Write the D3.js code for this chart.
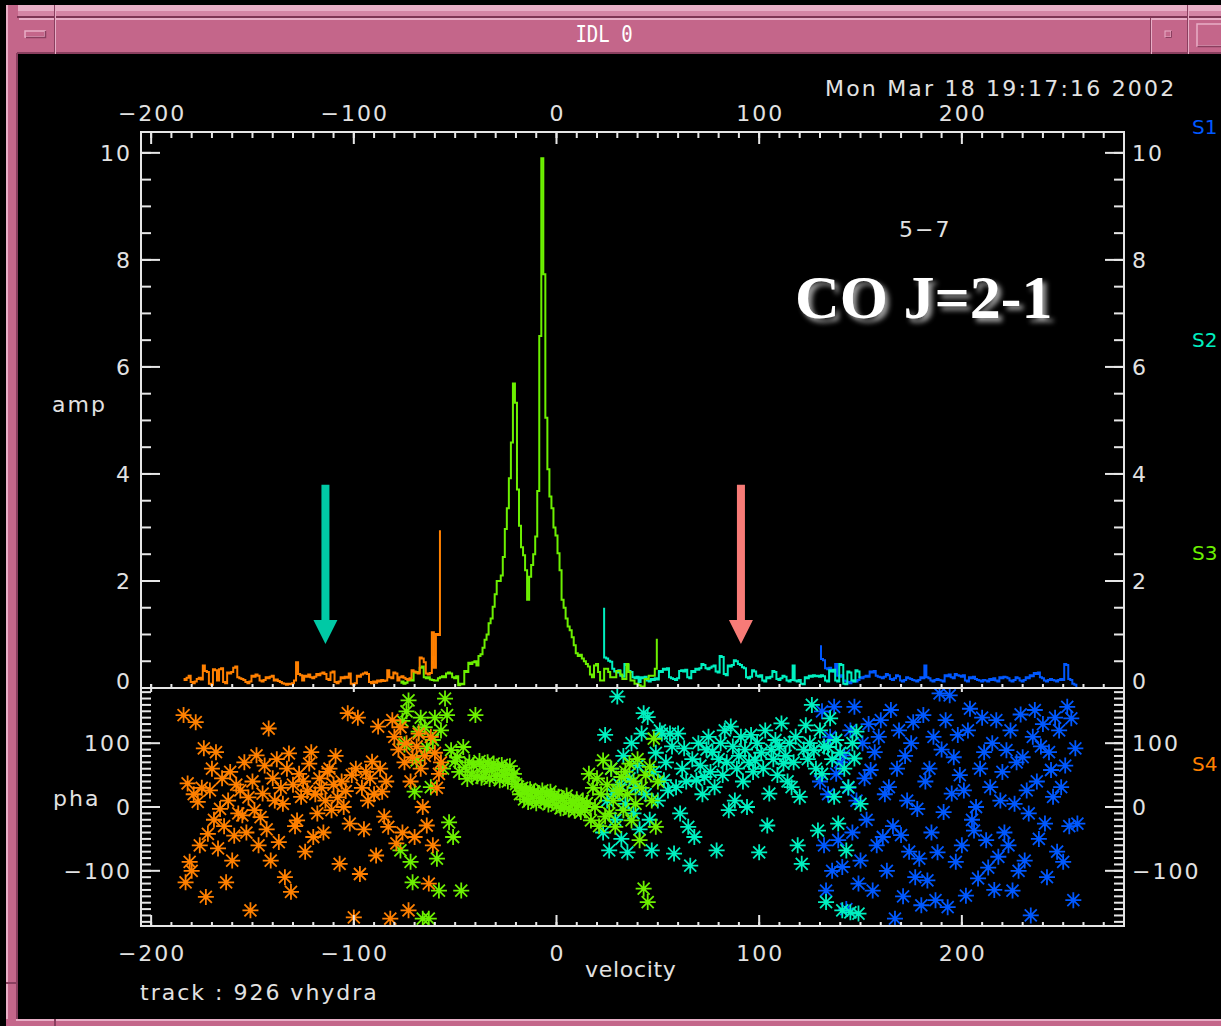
<!DOCTYPE html>
<html>
<head>
<meta charset="utf-8">
<script src="https://cdn.jsdelivr.net/npm/d3@7"></script>
<style>
  html, body { margin: 0; padding: 0; background: #000; overflow: hidden; }
  svg { display: block; }
  .lbl { font-family: "DejaVu Sans", sans-serif; font-size: 22px; fill: #e2e2e2; letter-spacing: 2px; }
</style>
</head>
<body>
<svg id="chart" width="1221" height="1026"></svg>
<script>
// ---- spectral windows: first channel velocity (km/s), 1 km/s channels ----
const chanWidth = 1;
const s4Start = -184;
const s3Start = -77;
const s2Start = 23;
const s1Start = 130;

// ---- amplitudes per channel ----
const s4Amp = [
  0.17,0.15,0.19,0.23,0.11,0.09,0.12,0.17,0.19,0.16,
  0.42,0.32,0.30,0.08,0.06,0.35,0.33,0.14,0.35,0.37,
  0.11,0.09,0.29,0.27,0.30,0.38,0.40,0.20,0.18,0.17,
  0.15,0.11,0.09,0.12,0.23,0.21,0.25,0.23,0.14,0.12,
  0.15,0.20,0.18,0.21,0.23,0.14,0.16,0.13,0.11,0.09,
  0.08,0.06,0.08,0.07,0.09,0.14,0.48,0.26,0.24,0.14,
  0.23,0.21,0.25,0.20,0.18,0.21,0.26,0.24,0.27,0.29,
  0.26,0.17,0.15,0.29,0.31,0.11,0.09,0.12,0.20,0.18,
  0.21,0.19,0.27,0.08,0.06,0.09,0.23,0.21,0.25,0.27,
  0.29,0.26,0.11,0.09,0.12,0.10,0.14,0.12,0.15,0.13,
  0.14,0.33,0.20,0.18,0.29,0.27,0.14,0.20,0.22,0.19,
  0.17,0.15,0.18,0.33,0.31,0.29,0.27,0.57,0.55,0.48,
  0.27,0.25,0.28,1.04,0.38,1.01,0.99,2.93
];
const s3Amp = [
  0.10,0.12,0.08,0.10,0.14,0.15,0.14,0.29,0.30,0.29,
  0.38,0.40,0.20,0.18,0.20,0.16,0.15,0.14,0.14,0.18,
  0.20,0.22,0.20,0.27,0.29,0.27,0.20,0.18,0.22,0.05,
  0.08,0.07,0.32,0.30,0.47,0.45,0.48,0.50,0.42,0.60,
  0.63,0.75,0.90,1.00,1.21,1.30,1.52,1.75,2.00,2.00,
  2.10,2.45,2.97,3.36,3.92,4.59,5.69,5.33,3.71,3.03,
  2.63,2.48,2.20,1.65,2.08,2.30,2.50,2.83,3.68,6.58,
  9.90,7.73,5.05,4.09,3.58,3.36,3.00,2.85,2.52,2.20,
  1.65,1.50,1.30,1.15,1.08,0.95,0.80,0.65,0.60,0.62,
  0.55,0.50,0.45,0.40,0.25,0.20,0.42,0.45,0.30,0.14,
  0.14,0.36,0.36,0.30,0.20,0.20,0.20,0.32,0.32,0.25,
  0.17,0.17,0.45,0.30,0.14,0.14,0.08,0.08,0.05,0.03,
  0.03,0.17,0.17,0.23,0.23,0.23,0.36,0.90
];
const s2Amp = [
  1.48,0.57,0.55,0.51,0.49,0.36,0.31,0.29,0.33,0.23,
  0.21,0.45,0.43,0.32,0.30,0.20,0.18,0.21,0.11,0.20,
  0.18,0.21,0.14,0.12,0.17,0.15,0.18,0.16,0.32,0.30,
  0.36,0.34,0.37,0.20,0.18,0.17,0.15,0.18,0.32,0.33,
  0.31,0.34,0.20,0.18,0.32,0.30,0.36,0.34,0.37,0.45,
  0.43,0.37,0.35,0.38,0.40,0.42,0.31,0.29,0.60,0.58,
  0.26,0.24,0.42,0.40,0.43,0.52,0.50,0.45,0.43,0.39,
  0.37,0.20,0.18,0.21,0.33,0.31,0.23,0.21,0.24,0.14,
  0.12,0.20,0.18,0.21,0.32,0.30,0.17,0.15,0.18,0.23,
  0.21,0.14,0.12,0.15,0.42,0.14,0.12,0.15,0.08,0.07,
  0.20,0.18,0.23,0.21,0.24,0.22,0.23,0.21,0.24,0.22,
  0.14,0.12,0.33,0.31,0.34,0.14,0.12,0.45,0.43,0.08,
  0.07,0.31,0.29,0.14,0.12,0.33,0.31,0.20
];
const s1Amp = [
  0.78,0.54,0.52,0.37,0.35,0.38,0.33,0.31,0.45,0.23,
  0.21,0.24,0.14,0.12,0.11,0.09,0.12,0.14,0.12,0.15,
  0.20,0.18,0.21,0.23,0.21,0.31,0.29,0.32,0.23,0.21,
  0.20,0.18,0.21,0.26,0.24,0.17,0.15,0.18,0.24,0.22,
  0.14,0.12,0.15,0.20,0.18,0.17,0.15,0.14,0.12,0.15,
  0.20,0.18,0.42,0.20,0.18,0.14,0.12,0.15,0.17,0.15,
  0.14,0.12,0.24,0.22,0.25,0.20,0.18,0.26,0.24,0.23,
  0.21,0.24,0.14,0.12,0.20,0.18,0.21,0.17,0.15,0.14,
  0.12,0.15,0.14,0.12,0.17,0.15,0.18,0.14,0.12,0.20,
  0.18,0.21,0.20,0.18,0.14,0.12,0.15,0.20,0.18,0.14,
  0.12,0.15,0.20,0.18,0.24,0.22,0.28,0.26,0.29,0.20,
  0.18,0.14,0.12,0.15,0.17,0.15,0.14,0.12,0.15,0.17,
  0.15,0.45,0.43,0.17,0.15,0.08,0.06,0.03
];

// ---- phases per channel (degrees) ----
const s4Pha = [
  144,-118,37,-86,-100,20,133,8,-60,30,
  92,-141,-42,26,60,-20,86,-65,-3,45,
  -30,-118,10,55,-84,-45,35,-10,26,-13,
  70,-40,15,-162,40,-5,81,-60,-16,21,
  65,-35,123,-84,45,10,75,-55,30,5,
  -110,60,84,-133,35,-30,-21,52,16,40,
  -70,25,68,86,-47,20,-10,45,30,-40,
  10,55,60,-5,35,80,15,-89,40,0,
  25,147,-26,50,-173,60,140,-105,30,-35,
  55,10,45,71,20,-76,126,60,24,-15,
  40,-31,-175,136,110,-57,90,125,-40,70,
  100,-162,40,78,-47,95,115,60,0,80,
  -29,-120,110,-60,85,30,52,70
];
const s3Pha = [
  -68,135,98,150,167,-86,-118,24,73,118,
  140,-175,125,92,-175,31,105,140,-81,-131,
  120,60,170,144,-24,89,-47,72,78,55,
  -131,94,62,44,70,50,66,144,48,72,
  46,64,55,70,44,60,68,48,62,42,
  66,50,58,40,64,46,52,36,32,20,
  30,12,26,8,28,14,24,6,22,10,
  26,8,20,4,24,10,18,2,16,-2,
  14,0,18,-4,10,6,-6,12,2,-8,
  10,-5,6,52,-21,30,0,45,-30,20,
  73,-15,35,-10,60,10,-31,25,26,47,
  -5,55,20,68,-21,40,5,75,-52,30,
  -128,50,-149,63,10,107,-31,40
];
const s2Pha = [
  -40,113,10,-68,60,20,-20,173,35,-50,
  80,5,-71,45,100,-10,30,65,-35,115,
  147,20,141,-20,-68,55,85,10,120,115,
  42,70,26,115,95,-73,31,115,-10,60,
  92,40,-31,-92,75,-47,42,100,65,20,
  47,90,110,55,86,31,-68,75,100,50,
  120,70,-5,126,95,10,60,80,110,40,
  90,0,70,113,55,73,100,-71,85,60,
  120,-29,21,90,75,105,50,95,131,68,
  80,40,100,31,70,110,-60,16,-89,90,
  128,75,100,160,89,60,-37,120,52,95,
  -149,94,139,75,16,105,-26,85,-162,60,
  -68,31,-165,100,76,118,-167,5
];
const s1Pha = [
  40,150,-60,-131,20,110,-100,157,52,-52,
  70,-94,81,-160,30,120,-40,157,10,-120,
  -84,100,45,-20,130,58,-131,86,-60,110,
  136,-47,20,-100,31,152,-30,-175,60,120,
  -44,-140,80,10,-70,100,133,-110,-3,-81,
  -154,144,40,-115,60,-40,110,-146,-71,178,
  90,-8,136,-157,175,21,78,-86,113,50,
  -60,26,-139,120,154,-20,-37,0,-112,60,
  140,86,-52,-95,31,100,-130,136,-78,10,
  55,-40,89,-60,120,-131,5,70,-100,145,
  78,-84,26,-10,-170,110,152,40,-50,95,
  130,-26,-110,86,58,16,140,-70,120,31,
  -86,65,157,-30,139,-146,92,-26
];

// ---- window names, colours, ticks and labels ----
const segNames  = ["S1", "S2", "S3", "S4"];
const segColors = ["#0058ff", "#00f0c0", "#6cf000", "#ff8000"];
const velTicks  = [-200, -100, 0, 100, 200];
const ampTicks  = [0, 2, 4, 6, 8, 10];
const phaTicks  = [-100, 0, 100];
const arrowVel    = [-114, 91];
const arrowColors = ["#00c9a5", "#f77b77"];
const arrowTop = 3.8, arrowTip = 0.82;
const windowTitle = "IDL 0";
const dateStamp   = "Mon Mar 18 19:17:16 2002";
const footerText  = "track : 926 vhydra";
const baselineTag = "5\u22127";
const lineTag     = "CO J=2-1";

// ---- layout ----
const W = 1221, H = 1026;
const plotL = 141, plotR = 1124, ampTop = 132, split = 688, phaBot = 926;

const x    = d3.scaleLinear().domain([-205, 280]).range([plotL, plotR]);
const yAmp = d3.scaleLinear().domain([0, 10.39]).range([split, ampTop]);
const yPha = d3.scaleLinear().domain([-186.5, 186.5]).range([phaBot, split]);

const fmt = v => (v < 0 ? "\u2212" + Math.abs(v) : String(v));
const svg = d3.select("#chart");

// ---------- window frame ----------
const pink = "#c4668a", pinkLight = "#e8aec6", pinkDark = "#8a3f5f";
svg.append("rect").attr("width", W).attr("height", H).attr("fill", "#000");
svg.append("rect").attr("x", 6).attr("y", 5).attr("width", W - 6).attr("height", 12).attr("fill", pinkLight);
svg.append("rect").attr("x", 6).attr("y", 11).attr("width", W - 6).attr("height", 5).attr("fill", "#d585a5");
svg.append("rect").attr("x", 6).attr("y", 5).attr("width", 12).attr("height", H - 5).attr("fill", pink);
svg.append("rect").attr("x", 6).attr("y", 5).attr("width", 2).attr("height", H - 5).attr("fill", pinkLight);
svg.append("rect").attr("x", 16).attr("y", 53).attr("width", 2).attr("height", 966).attr("fill", pinkDark);
svg.append("rect").attr("x", 6).attr("y", 982).attr("width", 12).attr("height", 2).attr("fill", pinkDark);
svg.append("rect").attr("x", 6).attr("y", 1019).attr("width", W - 6).attr("height", 7).attr("fill", pink);
svg.append("rect").attr("x", 16).attr("y", 1019).attr("width", W - 16).attr("height", 2).attr("fill", pinkLight);
svg.append("rect").attr("x", 54).attr("y", 1019).attr("width", 2).attr("height", 7).attr("fill", pinkDark);
// title bar
svg.append("rect").attr("x", 17).attr("y", 16).attr("width", W - 17).attr("height", 38).attr("fill", pink);
svg.append("rect").attr("x", 17).attr("y", 16).attr("width", W - 17).attr("height", 2).attr("fill", "#7e3554");
svg.append("rect").attr("x", 19).attr("y", 18).attr("width", W - 19).attr("height", 2).attr("fill", pinkLight);
svg.append("rect").attr("x", 17).attr("y", 52).attr("width", W - 17).attr("height", 2).attr("fill", pinkDark);
[[54, 5], [1150, 18], [1187, 5]].forEach(([sx, sy]) => {
  svg.append("rect").attr("x", sx).attr("y", sy).attr("width", 1).attr("height", 54 - sy).attr("fill", pinkDark);
  svg.append("rect").attr("x", sx + 1).attr("y", sy).attr("width", 1).attr("height", 54 - sy).attr("fill", pinkLight);
});
// left menu button
svg.append("rect").attr("x", 25).attr("y", 31).attr("width", 20).attr("height", 6)
  .attr("fill", pink).attr("stroke", pinkLight).attr("stroke-width", 1.5);
svg.append("path").attr("d", "M26,37.5H45.5V31").attr("fill", "none").attr("stroke", pinkDark).attr("stroke-width", 1.5);
// iconify / maximize buttons
svg.append("rect").attr("x", 1165).attr("y", 31).attr("width", 6).attr("height", 6)
  .attr("fill", pink).attr("stroke", pinkLight).attr("stroke-width", 1);
svg.append("path").attr("d", "M1165.5,37.5H1171.5V31").attr("fill", "none").attr("stroke", pinkDark).attr("stroke-width", 1);
svg.append("rect").attr("x", 1197).attr("y", 24).attr("width", 26).attr("height", 22)
  .attr("fill", pink).attr("stroke", pinkLight).attr("stroke-width", 1.5);
svg.append("path").attr("d", "M1197.5,46.5H1223").attr("fill", "none").attr("stroke", pinkDark).attr("stroke-width", 1.5);
svg.append("text").attr("x", 604).attr("y", 42).attr("text-anchor", "middle")
  .attr("font-family", "DejaVu Sans Mono").attr("font-size", 19).attr("fill", "#fff")
  .attr("transform", "translate(0,-9) scale(1,1.22)").text(windowTitle);

// ---------- clip regions ----------
const defs = svg.append("defs");
defs.append("clipPath").attr("id", "ampClip").append("rect")
  .attr("x", plotL).attr("y", ampTop).attr("width", plotR - plotL).attr("height", split - ampTop);
defs.append("clipPath").attr("id", "phaClip").append("rect")
  .attr("x", plotL).attr("y", split + 1).attr("width", plotR - plotL).attr("height", phaBot - split - 1);
const shadow = defs.append("filter").attr("id", "tagShadow")
  .attr("x", "-10%").attr("y", "-30%").attr("width", "130%").attr("height", "180%");
shadow.append("feDropShadow").attr("dx", 4).attr("dy", 4).attr("stdDeviation", 2.5)
  .attr("flood-color", "#9a9a9a").attr("flood-opacity", 1);

// ---------- data series ----------
const series = [
  { name: segNames[0], color: segColors[0], start: s1Start, amp: s1Amp, pha: s1Pha },
  { name: segNames[1], color: segColors[1], start: s2Start, amp: s2Amp, pha: s2Pha },
  { name: segNames[2], color: segColors[2], start: s3Start, amp: s3Amp, pha: s3Pha },
  { name: segNames[3], color: segColors[3], start: s4Start, amp: s4Amp, pha: s4Pha }
];
const chanVel = (s, i) => s.start + i * chanWidth;

// amplitude spectra, histogram style
const ampLine = d3.line()
  .x(d => x(d.v)).y(d => yAmp(d.a))
  .curve(d3.curveStep);
const ampG = svg.append("g").attr("clip-path", "url(#ampClip)");
series.forEach(s => {
  const pts = s.amp.map((a, i) => ({ v: chanVel(s, i), a }));
  ampG.append("path").attr("d", ampLine(pts))
    .attr("fill", "none").attr("stroke", s.color).attr("stroke-width", 2)
    .attr("stroke-linejoin", "miter");
});

// phases, asterisk symbols
const star = "M-8,0H8M0,-8V8M-6,-6L6,6M-6,6L6,-6";
const phaG = svg.append("g").attr("clip-path", "url(#phaClip)");
series.forEach(s => {
  phaG.append("g").selectAll("path")
    .data(s.pha.map((p, i) => ({ v: chanVel(s, i), p })))
    .join("path")
    .attr("d", star)
    .attr("transform", d => `translate(${x(d.v)},${yPha(d.p)})`)
    .attr("fill", "none").attr("stroke", s.color).attr("stroke-width", 1.8);
});

// ---------- axes ----------
const axisColor = "#e6e6e6";
const axG = svg.append("g").attr("stroke", axisColor).attr("stroke-width", 2).attr("fill", "none");
axG.append("rect").attr("x", plotL).attr("y", ampTop).attr("width", plotR - plotL).attr("height", split - ampTop);
axG.append("rect").attr("x", plotL).attr("y", split).attr("width", plotR - plotL).attr("height", phaBot - split);

const velMinor = d3.range(-200, 271, 10);
function hTicks(vals, y0, y1) {
  axG.append("g").selectAll("line").data(vals).join("line")
    .attr("x1", d => x(d)).attr("x2", d => x(d)).attr("y1", y0).attr("y2", y1);
}
function vTicks(scale, vals, x0, x1) {
  axG.append("g").selectAll("line").data(vals).join("line")
    .attr("y1", d => scale(d)).attr("y2", d => scale(d)).attr("x1", x0).attr("x2", x1);
}
// top velocity axis
hTicks(velMinor, ampTop, ampTop + 6);
hTicks(velTicks, ampTop, ampTop + 12);
// shared boundary between panels
hTicks(velMinor, split, split - 4);
hTicks(velTicks, split - 4, split + 4);
// bottom velocity axis
hTicks(velMinor, phaBot, phaBot - 4);
hTicks(velTicks, phaBot, phaBot - 11);
// amplitude axes
const ampMinor = d3.range(0, 10.01, 0.5);
vTicks(yAmp, ampMinor, plotL, plotL + 10);
vTicks(yAmp, ampTicks, plotL, plotL + 19);
vTicks(yAmp, ampMinor, plotR, plotR - 10);
vTicks(yAmp, ampTicks, plotR, plotR - 19);
// phase axes
const phaMinor = d3.range(-180, 181, 10);
vTicks(yPha, phaMinor, plotL, plotL + 10);
vTicks(yPha, phaTicks, plotL, plotL + 19);
vTicks(yPha, phaMinor, plotR, plotR - 10);
vTicks(yPha, phaTicks, plotR, plotR - 19);

// ---------- tick labels ----------
const txt = (tx, ty, s, anchor) =>
  svg.append("text").attr("class", "lbl").attr("x", tx).attr("y", ty)
    .attr("text-anchor", anchor || "start").text(s);

velTicks.forEach(v => { txt(x(v) + 1, 121, fmt(v), "middle"); txt(x(v) + 1, 961, fmt(v), "middle"); });
ampTicks.forEach(a => {
  const ty = a === 0 ? yAmp(a) + 1 : yAmp(a) + 8;
  txt(132, ty, fmt(a), "end");
  txt(1132, ty, fmt(a));
});
phaTicks.forEach(p => {
  txt(132, yPha(p) + 8, fmt(p), "end");
  txt(1132, yPha(p) + 8, fmt(p));
});

// axis titles and annotations
txt(52, 412, "amp");
txt(53, 806, "pha");
txt(585, 977, "velocity").style("letter-spacing", "0.7px");
txt(140, 1000, footerText);
txt(825, 96, dateStamp).style("letter-spacing", "2.2px");
txt(899, 237, baselineTag);
const sLabelY = [134, 347, 560, 771];
series.forEach((s, i) => txt(1192, sLabelY[i], s.name)
  .style("fill", s.color).style("letter-spacing", "0px").style("font-size", "20px"));

svg.append("text").attr("x", 795).attr("y", 318)
  .attr("font-family", "Liberation Serif, 'Times New Roman', serif")
  .attr("font-weight", "bold").attr("font-size", 62).attr("fill", "#fff")
  .attr("filter", "url(#tagShadow)").text(lineTag);

// ---------- arrows ----------
arrowVel.forEach((v, i) => {
  const cx = x(v), yT = yAmp(arrowTop), yB = yAmp(arrowTip), headH = 24, halfShaft = 4, halfHead = 12;
  svg.append("path")
    .attr("d", `M${cx - halfShaft},${yT}H${cx + halfShaft}V${yB - headH}H${cx + halfHead}L${cx},${yB}L${cx - halfHead},${yB - headH}H${cx - halfShaft}Z`)
    .attr("fill", arrowColors[i]);
});
</script>
</body>
</html>
